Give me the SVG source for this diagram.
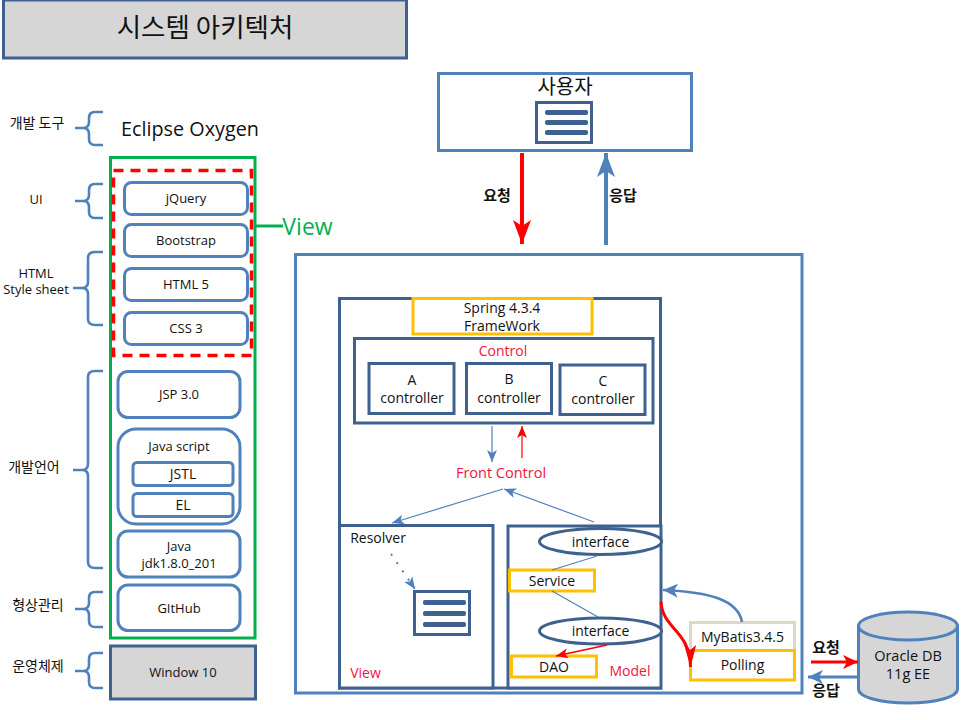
<svg xmlns="http://www.w3.org/2000/svg" width="971" height="720" viewBox="0 0 971 720">
<style>
text{font-family:"Open Sans","Noto Sans CJK KR",sans-serif;fill:#111;text-anchor:middle;font-size:13px}
.cjk{font-family:"Noto Sans CJK KR",sans-serif;font-size:14px}
.b{font-weight:700;font-size:15px}
.m{font-size:14px}
.red{fill:#f0143c}
.soft{fill:#fff;stroke:#4f81bd;stroke-width:3}
.dark{fill:#fff;stroke:#3f618f;stroke-width:3}
.gray{fill:#d6d6d6;stroke:#3f618f;stroke-width:3}
.gold{fill:#fff;stroke:#ffc000;stroke-width:3}
.brace{fill:none;stroke:#4f81bd;stroke-width:2.6}
.bar{fill:#3f618f;stroke:#3f618f}
.c{fill:none}
</style>
<defs>
<marker id="rb" markerUnits="userSpaceOnUse" markerWidth="26" markerHeight="22" refX="24" refY="10" orient="auto"><path d="M0 1L24 10L0 19L6 10Z" fill="#f00"/></marker>
<marker id="bb" markerUnits="userSpaceOnUse" markerWidth="26" markerHeight="22" refX="24" refY="10" orient="auto"><path d="M0 1L24 10L0 19L6 10Z" fill="#4f81bd"/></marker>
<marker id="rl" markerUnits="userSpaceOnUse" markerWidth="18" markerHeight="16" refX="15" refY="8" orient="auto"><path d="M0 1L15 8L0 15L4 8Z" fill="#f00"/></marker>
<marker id="bl" markerUnits="userSpaceOnUse" markerWidth="18" markerHeight="16" refX="15" refY="8" orient="auto"><path d="M0 1L15 8L0 15L4 8Z" fill="#4f81bd"/></marker>
<marker id="rc" markerUnits="userSpaceOnUse" markerWidth="24" markerHeight="14" refX="22" refY="6" orient="auto"><path d="M0 0L22 6L0 12L5 6Z" fill="#f00"/></marker>
<marker id="bs" markerUnits="userSpaceOnUse" markerWidth="14" markerHeight="12" refX="12" refY="6" orient="auto"><path d="M0 1L12 6L0 11L3 6Z" fill="#4f81bd"/></marker>
<marker id="rs" markerUnits="userSpaceOnUse" markerWidth="14" markerHeight="12" refX="12" refY="6" orient="auto"><path d="M0 1L12 6L0 11L3 6Z" fill="#f00"/></marker>
</defs>

<g id="title"><rect class="gray" x="3.500" y="0" width="403" height="58"/><text class="cjk" x="205" y="37" style="font-size:26.500px">시스템 아키텍처</text></g>

<g id="label-tool"><text class="cjk" x="37" y="128">개발 도구</text><path class="brace" d="M103 112H95Q89 112 89 118V122Q89 128 83 128H75M83 128Q89 128 89 134V139Q89 145 95 145H103"/></g>
<text x="190" y="136" style="font-size:19.800px" id="eclipse">Eclipse Oxygen</text>
<g id="label-ui"><text x="36" y="204">UI</text><path class="brace" d="M103 184H95Q89 184 89 190V195Q89 201 83 201H75M83 201Q89 201 89 207V212Q89 218 95 218H103"/></g>
<g id="label-html"><text x="36" y="278">HTML<tspan x="36" dy="16">Style sheet</tspan></text><path class="brace" d="M103 252H95Q88 252 88 258V282Q88 288 82 288H73M82 288Q88 288 88 294V319Q88 325 95 325H103"/></g>
<g id="label-lang"><text class="cjk" x="34" y="472">개발언어</text><path class="brace" d="M103 371H95Q88 371 88 377V464Q88 470 82 470H73M82 470Q88 470 88 476V562Q88 568 95 568H103"/></g>
<g id="label-scm"><text class="cjk" x="38" y="610">형상관리</text><path class="brace" d="M103 592H95Q89 592 89 598V603Q89 609 83 609H75M83 609Q89 609 89 615V621Q89 627 95 627H103"/></g>
<g id="label-os"><text class="cjk" x="38" y="671">운영체제</text><path class="brace" d="M103 653H95Q89 653 89 659V665Q89 671 83 671H75M83 671Q89 671 89 677V682Q89 688 95 688H103"/></g>

<g id="view-group"><rect x="110.500" y="157.500" width="144.500" height="480.500" fill="none" stroke="#00b050" stroke-width="3"/><path d="M256 226H283" stroke="#00b050" stroke-width="3"/><text x="307.500" y="235" style="font-size:23px;fill:#00b050">View</text></g>
<rect id="ui-dashed" x="113.500" y="170.500" width="138" height="185" fill="none" stroke="#f00" stroke-width="3.500" stroke-dasharray="10 7"/>
<g id="jquery"><rect class="soft" x="124.500" y="182.500" width="123" height="32" rx="7"/><text x="186" y="203">jQuery</text></g>
<g id="bootstrap"><rect class="soft" x="124.500" y="224.500" width="123" height="32" rx="7"/><text x="186" y="245">Bootstrap</text></g>
<g id="html5"><rect class="soft" x="124.500" y="268.500" width="123" height="32" rx="7"/><text x="186" y="289">HTML 5</text></g>
<g id="css3"><rect class="soft" x="124.500" y="312.500" width="123" height="32" rx="7"/><text x="186" y="333">CSS 3</text></g>
<g id="jsp"><rect class="soft" x="118" y="371.500" width="122" height="46" rx="10"/><text x="179" y="399">JSP 3.0</text></g>
<g id="javascript"><rect class="soft" x="118" y="429" width="122" height="95" rx="18"/><text x="179" y="451">Java script</text></g>
<g id="jstl"><rect class="soft" x="133" y="462.500" width="100" height="23" rx="4"/><text class="m" x="183" y="479">JSTL</text></g>
<g id="el"><rect class="soft" x="133" y="493.500" width="100" height="23" rx="4"/><text class="m" x="183" y="510">EL</text></g>
<g id="java"><rect class="soft" x="118" y="531" width="122" height="46" rx="10"/><text x="179" y="551">Java<tspan x="179" dy="17">jdk1.8.0_201</tspan></text></g>
<g id="github"><rect class="soft" x="118" y="585" width="122" height="45.500" rx="10"/><text x="179" y="613">GItHub</text></g>
<g id="window"><rect class="gray" x="110.500" y="646" width="145" height="53"/><text x="183" y="677">Window 10</text></g>

<g id="user"><rect class="soft" x="438.500" y="73.500" width="253" height="77"/><text class="cjk" x="565" y="94" style="font-size:20px">사용자</text><rect class="dark" x="536.500" y="102.500" width="55" height="40"/><rect class="bar" x="545.500" y="110.500" width="42" height="4" rx="1"/><rect class="bar" x="545.500" y="120.500" width="42" height="4" rx="1"/><rect class="bar" x="545.500" y="130.500" width="42" height="4" rx="1"/></g>
<g id="server"><rect class="soft" x="295.500" y="254.500" width="506.500" height="438.500"/></g>
<g id="spring"><rect class="dark" x="339.500" y="298.500" width="321" height="389.500"/></g>
<g id="framework"><rect class="gold" x="413" y="298.500" width="179" height="35.500"/><text class="m" x="502" y="313">Spring 4.3.4<tspan x="502" dy="18">FrameWork</tspan></text></g>
<g id="control"><rect class="dark" x="354.500" y="338.500" width="298.500" height="84.500"/><text class="red m" x="503" y="356">Control</text></g>
<g id="a-controller"><rect class="dark" x="369" y="363.500" width="85" height="50"/><text class="m" x="412" y="385">A<tspan x="412" dy="18">controller</tspan></text></g>
<g id="b-controller"><rect class="dark" x="466.500" y="363.500" width="85" height="50"/><text class="m" x="509" y="384">B<tspan x="509" dy="19">controller</tspan></text></g>
<g id="c-controller"><rect class="dark" x="560" y="365" width="85" height="49.500"/><text class="m" x="603" y="386">C<tspan x="603" dy="18">controller</tspan></text></g>
<text id="front-control" class="red" x="501" y="478" style="font-size:14.500px">Front Control</text>
<g id="resolver"><rect class="dark" x="339.500" y="525.500" width="153.500" height="162.500"/><text class="m" x="378" y="543">Resolver</text><text class="red m" x="365.500" y="678">View</text></g>
<g id="view-doc"><rect class="dark" x="414.500" y="591.500" width="55" height="43"/><rect class="bar" x="423.500" y="600.500" width="42" height="4" rx="1"/><rect class="bar" x="423.500" y="611.500" width="42" height="4" rx="1"/><rect class="bar" x="423.500" y="622.500" width="42" height="4" rx="1"/></g>
<g id="model"><rect class="dark" x="508" y="526" width="153" height="162"/><text class="red m" x="630" y="676">Model</text></g>
<g id="interface-1"><ellipse cx="600.500" cy="541.500" rx="61" ry="13" fill="#fff" stroke="#3f618f" stroke-width="3"/><text class="m" x="600.500" y="547">interface</text></g>
<g id="service"><rect class="gold" x="509.500" y="570" width="85" height="21"/><text class="m" x="552" y="586">Service</text></g>
<g id="interface-2"><ellipse cx="600.500" cy="631" rx="61" ry="13" fill="#fff" stroke="#3f618f" stroke-width="3"/><text class="m" x="600.500" y="636">interface</text></g>
<g id="dao"><rect class="gold" x="511.500" y="656" width="85" height="21"/><text class="m" x="554" y="672">DAO</text></g>
<g id="mybatis"><rect x="690.500" y="622.500" width="104" height="28" fill="#fff" stroke="#ddd9c3" stroke-width="3"/><text class="m" x="742.500" y="642">MyBatis3.4.5</text></g>
<g id="polling"><rect class="gold" x="690.500" y="650.500" width="104" height="29.500"/><text class="m" x="742.500" y="670">Polling</text></g>
<g id="oracle"><path d="M858.500 626V689C858.500 697 880 703 908 703S957.500 697 957.500 689V626Z" fill="#d6d6d6" stroke="#4f81bd" stroke-width="3"/><ellipse cx="908" cy="626" rx="49.500" ry="14" fill="#d6d6d6" stroke="#4f81bd" stroke-width="3"/><text x="908" y="661" style="font-size:14.500px">Oracle DB<tspan x="908" dy="18">11g EE</tspan></text></g>

<g id="connectors" class="c">
<path d="M522 153V244" stroke="#f00" stroke-width="4" marker-end="url(#rb)" fill="none"/>
<path d="M606 245V153" stroke="#4f81bd" stroke-width="4" marker-end="url(#bb)" fill="none"/>
<path d="M492 426V462" stroke="#4f81bd" stroke-width="1.200" marker-end="url(#bs)" fill="none"/>
<path d="M522 458V426" stroke="#f00" stroke-width="1.200" marker-end="url(#rs)" fill="none"/>
<path d="M503 489L392 523" stroke="#4f81bd" stroke-width="1.200" marker-end="url(#bs)" fill="none"/>
<path d="M594 522L504 489" stroke="#4f81bd" stroke-width="1.200" marker-end="url(#bs)" fill="none"/>
<path d="M391 554L415 589" stroke="#4f81bd" stroke-width="2" stroke-dasharray="2 8" marker-end="url(#bs)" fill="none"/>
<path d="M597 556L552 570M552 591L598 617" stroke="#4f81bd" stroke-width="1.200" fill="none"/>
<path d="M607 645L556 656" stroke="#f00" stroke-width="1.600" marker-end="url(#rs)" fill="none"/>
<path d="M742 622C738 600 710 592 663 590" stroke="#4f81bd" stroke-width="2.600" marker-end="url(#bl)" fill="none"/>
<path d="M661 602C663 630 690 630 690.500 667" stroke="#f00" stroke-width="3" marker-end="url(#rc)" fill="none"/>
<path d="M811 662H858" stroke="#f00" stroke-width="3" marker-end="url(#rl)" fill="none"/>
<path d="M858 677H808" stroke="#4f81bd" stroke-width="3" marker-end="url(#bl)" fill="none"/>
</g>
<g id="connector-labels">
<text class="cjk b" x="497" y="201">요청</text>
<text class="cjk b" x="623" y="201">응답</text>
<text class="cjk b" x="826" y="653">요청</text>
<text class="cjk b" x="826" y="696">응답</text>
</g>
</svg>
